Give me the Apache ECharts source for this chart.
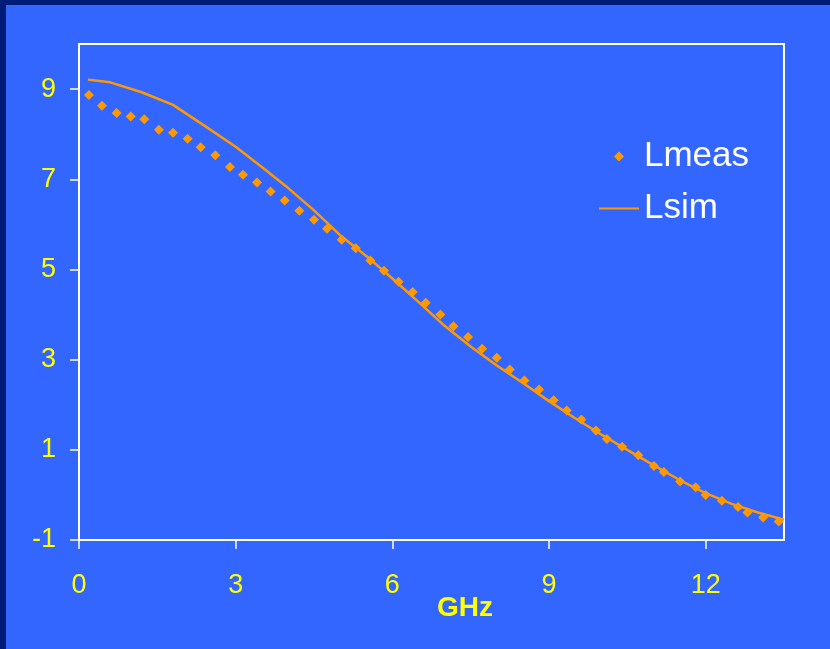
<!DOCTYPE html>
<html>
<head>
<meta charset="utf-8">
<script src="https://cdn.jsdelivr.net/npm/echarts@6/dist/echarts.min.js"></script>
<style>
html,body{margin:0;padding:0;background:#3366FF;}
#chart{width:830px;height:649px;}
</style>
</head>
<body>
<div id="chart"></div>
<script>
// Lmeas: measured points [GHz, value]
const measX = [0.19,0.44,0.72,0.99,1.25,1.53,1.80,2.08,2.33,2.61,2.89,3.14,3.41,3.67,3.94,4.22,4.50,4.75,5.03,5.30,5.58,5.84,6.12,6.39,6.64,6.92,7.17,7.45,7.72,8.00,8.25,8.53,8.81,9.09,9.34,9.62,9.90,10.11,10.40,10.71,11.01,11.20,11.51,11.81,12.00,12.31,12.62,12.80,13.10,13.40];
const measY = [8.87,8.63,8.47,8.39,8.33,8.10,8.03,7.90,7.71,7.53,7.27,7.10,6.93,6.73,6.53,6.30,6.10,5.90,5.66,5.47,5.20,4.97,4.73,4.50,4.26,4.00,3.74,3.50,3.24,3.04,2.78,2.54,2.34,2.10,1.87,1.67,1.43,1.24,1.07,0.88,0.64,0.51,0.30,0.17,0.00,-0.13,-0.27,-0.39,-0.50,-0.59];
// Lsim: simulated curve
const simX = [0.17,0.6,1.2,1.8,2.4,3.0,3.5,4.0,4.5,5.0,5.5,6.0,6.5,7.0,7.5,8.0,8.5,9.0,9.5,10.0,10.5,11.0,11.5,12.0,12.5,13.0,13.5];
const simY = [9.21,9.15,8.93,8.65,8.19,7.72,7.27,6.81,6.31,5.76,5.30,4.80,4.28,3.75,3.29,2.87,2.48,2.08,1.70,1.34,1.00,0.66,0.33,0.04,-0.20,-0.39,-0.55];
const xTicks = [0,3,6,9,12];
const yTicks = [-1,1,3,5,7,9];
const seriesNames = ['Lmeas','Lsim'];

const FONT = 'Liberation Sans, Arial, sans-serif';
const chart = echarts.init(document.getElementById('chart'));
chart.setOption({
  backgroundColor: '#3366FF',
  animation: false,
  graphic: [
    {type:'rect', shape:{x:0,y:0,width:830,height:5}, style:{fill:'#001C78'}, silent:true},
    {type:'rect', shape:{x:0,y:0,width:6,height:649}, style:{fill:'#001C78'}, silent:true}
  ],
  title: {
    text: 'GHz', left: 432, top: 589,
    textStyle: {color:'#FFFF00', fontSize:28, fontWeight:'bold', fontFamily:FONT}
  },
  legend: {
    orient: 'vertical', left: 593, top: 134,
    itemWidth: 40, itemHeight: 10, itemGap: 17,
    symbolKeepAspect: true,
    textStyle: {color:'#FFFFFF', fontSize:35, fontFamily:FONT},
    data: [
      {name: seriesNames[0], icon:'path://M0,5L5,0L10,5L5,10Z', itemStyle:{color:'#FF9900', opacity:1}},
      {name: seriesNames[1], itemStyle:{opacity:0}}
    ]
  },
  grid: {left:79, right:46, top:44, bottom:109, show:true, borderColor:'#FFFFFF', borderWidth:2, backgroundColor:'transparent'},
  xAxis: {
    type:'value', min:0, max:13.5,
    axisLine:{show:true, onZero:false, lineStyle:{color:'#FFFFFF', width:2}},
    axisTick:{show:true, length:9, customValues:xTicks, lineStyle:{color:'#FFFFFF', width:1.5}},
    axisLabel:{customValues:xTicks, color:'#FFFF00', fontSize:27, fontFamily:FONT, margin:46, verticalAlign:'middle'},
    splitLine:{show:false}
  },
  yAxis: {
    type:'value', min:-1, max:10,
    axisLine:{show:true, onZero:false, lineStyle:{color:'#FFFFFF', width:2}},
    axisTick:{show:true, length:9, customValues:yTicks, lineStyle:{color:'#FFFFFF', width:1.5}},
    axisLabel:{customValues:yTicks, color:'#FFFF00', fontSize:27, fontFamily:FONT, margin:23, padding:[6,0,0,0]},
    splitLine:{show:false}
  },
  series: [
    {
      name: seriesNames[0], type:'scatter', symbol:'diamond', symbolSize:10,
      itemStyle:{color:'#FF9900', opacity:1},
      data: measX.map((x,i)=>[x, measY[i]])
    },
    {
      name: seriesNames[1], type:'line', symbol:'circle', showSymbol:false, smooth:false,
      itemStyle:{color:'#FF9900'},
      lineStyle:{color:'#FF9900', width:2.5},
      data: simX.map((x,i)=>[x, simY[i]])
    }
  ]
});
</script>
</body>
</html>
